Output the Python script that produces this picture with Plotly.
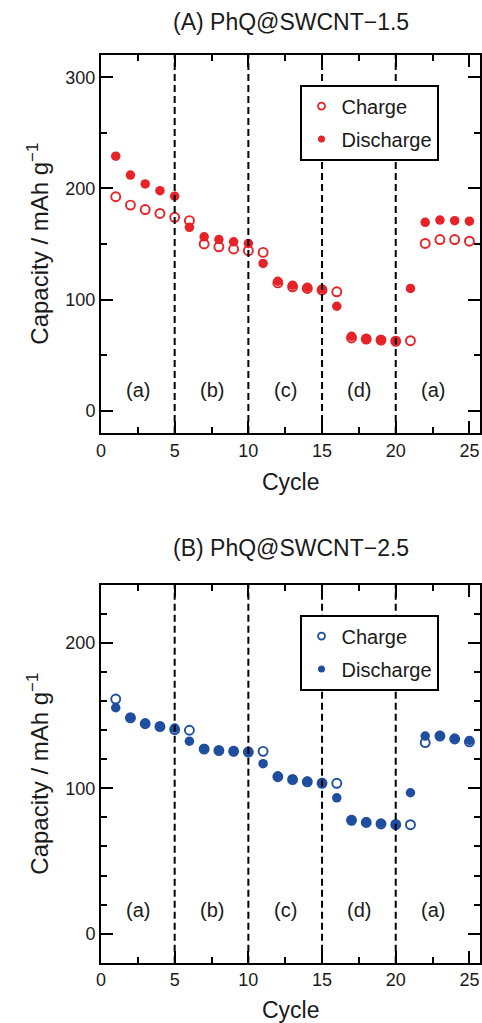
import plotly.graph_objects as go

# Rate capability data: capacity (mAh g-1) per cycle
cycles = list(range(1, 26))

charge_a = [192.5, 185, 181, 177.5, 174, 171, 150, 147.5, 145.5, 144, 142.5,
            115, 111.5, 110, 108.5, 107, 65.5, 64.5, 63.5, 62.5, 63,
            150.5, 154, 154, 152.5]
discharge_a = [229, 212, 204, 198, 193, 165, 156.5, 154, 152, 150.5, 132.5,
               116.5, 113, 111, 109.5, 94, 67, 65, 64, 63, 110,
               169.5, 171.5, 171, 170.5]

charge_b = [161.5, 148.5, 144.5, 142.5, 140.5, 140, 127, 126, 125.5, 125, 125.5,
            108, 106, 104.5, 103.5, 103.5, 78, 76.5, 75.5, 75, 75,
            131.5, 136, 134, 132]
discharge_b = [155.5, 149, 145, 143, 141.5, 132.5, 127.5, 126.5, 126, 125.5, 117,
               108.5, 106.5, 105, 104, 93.5, 78.5, 77, 76, 75.5, 97,
               136, 136.5, 134.5, 133]

rate_labels = ["(a)", "(b)", "(c)", "(d)", "(a)"]
rate_label_x = [2.5, 7.5, 12.5, 17.5, 22.5]
rate_boundaries = [5, 10, 15, 20]

panel_titles = ["(A) PhQ@SWCNT\u22121.5", "(B) PhQ@SWCNT\u22122.5"]

RED = "#E52328"
BLUE = "#1F4E9E"
TXT = "#1a1a1a"
FONT = "Liberation Sans, Arial, sans-serif"

W, H = 482, 1023


def px_x(v):
    return v / W


def px_y(v):
    return 1 - v / H


fig = go.Figure()

panels = [
    dict(charge=charge_a, discharge=discharge_a, color=RED, xa="x", ya="y", legend="legend"),
    dict(charge=charge_b, discharge=discharge_b, color=BLUE, xa="x2", ya="y2", legend="legend2"),
]

for p in panels:
    # data markers
    fig.add_trace(go.Scatter(
        x=cycles, y=p["charge"], mode="markers", xaxis=p["xa"], yaxis=p["ya"],
        marker=dict(symbol="circle-open", size=9, color=p["color"], line=dict(width=1.9, color=p["color"])),
        showlegend=False, hoverinfo="x+y"))
    fig.add_trace(go.Scatter(
        x=cycles, y=p["discharge"], mode="markers", xaxis=p["xa"], yaxis=p["ya"],
        marker=dict(symbol="circle", size=9.5, color=p["color"]),
        showlegend=False, hoverinfo="x+y"))
    # legend entries
    fig.add_trace(go.Scatter(
        x=[None], y=[None], mode="markers", name="Charge", xaxis=p["xa"], yaxis=p["ya"],
        marker=dict(symbol="circle-open", size=7, color=p["color"], line=dict(width=1.8, color=p["color"])),
        legend=p["legend"], legendgroup="c" + p["legend"]))
    fig.add_trace(go.Scatter(
        x=[None], y=[None], mode="markers", name="Discharge", xaxis=p["xa"], yaxis=p["ya"],
        marker=dict(symbol="circle", size=7, color=p["color"]),
        legend=p["legend"], legendgroup="d" + p["legend"]))

axis_common = dict(
    showline=True, linewidth=2, linecolor="black", mirror="ticks",
    ticks="inside", ticklen=12, tickwidth=1.6, tickcolor="black",
    showgrid=False, zeroline=False,
    tickfont=dict(family=FONT, size=18, color=TXT),
)

x_dom = [px_x(97), px_x(480)]
xa = dict(axis_common, range=[0, 25.72], tick0=0, dtick=5, domain=x_dom,
          minor=dict(ticks="inside", ticklen=6, tickwidth=1.6, tickcolor="black", tick0=0, dtick=2.5))

legend_common = dict(xanchor="left", yanchor="top",
                     bgcolor="white", bordercolor="black", borderwidth=1.6,
                     font=dict(family=FONT, size=20, color=TXT), tracegroupgap=4)

fig.update_layout(
    width=W, height=H,
    margin=dict(l=0, r=0, t=0, b=0),
    paper_bgcolor="white", plot_bgcolor="white",
    font=dict(family=FONT, color=TXT),
    xaxis=dict(xa, anchor="y"),
    xaxis2=dict(xa, anchor="y2"),
    yaxis=dict(axis_common, range=[-20, 320], tick0=0, dtick=100, anchor="x",
               domain=[px_y(433), px_y(55)],
               minor=dict(ticks="inside", ticklen=6, tickwidth=1.6, tickcolor="black", tick0=0, dtick=50)),
    yaxis2=dict(axis_common, range=[-20, 240], tick0=0, dtick=100, anchor="x2",
                domain=[px_y(962.7), px_y(585)],
                minor=dict(ticks="inside", ticklen=6, tickwidth=1.6, tickcolor="black", tick0=0, dtick=20)),
    legend=dict(legend_common, x=px_x(298), y=px_y(85)),
    legend2=dict(legend_common, x=px_x(298), y=px_y(615)),
)

# dashed rate-change boundaries
for xr, yr in [("x", "y"), ("x2", "y2")]:
    for b in rate_boundaries:
        fig.add_shape(type="line", xref=xr, yref=yr + " domain", x0=b, x1=b, y0=0, y1=1,
                      line=dict(color="black", width=2, dash="7px,4px"), layer="above")

annotations = []
# rate labels inside each panel
for xr, yr, yv in [("x", "y", 19), ("x2", "y2", 16)]:
    for lx, lt in zip(rate_label_x, rate_labels):
        annotations.append(dict(x=lx, y=yv, xref=xr, yref=yr, text=lt, showarrow=False,
                                font=dict(family=FONT, size=20, color=TXT)))

cx = px_x((97 + 480) / 2)
for title, ty in zip(panel_titles, [22, 548]):
    annotations.append(dict(x=cx, y=px_y(ty), xref="paper", yref="paper", text=title,
                            showarrow=False, xanchor="center", yanchor="middle",
                            font=dict(family=FONT, size=23, color=TXT)))
for cy in [482, 1010]:
    annotations.append(dict(x=cx, y=px_y(cy), xref="paper", yref="paper", text="Cycle",
                            showarrow=False, xanchor="center", yanchor="middle",
                            font=dict(family=FONT, size=23, color=TXT)))
for ycen in [244, 774]:
    annotations.append(dict(x=px_x(33), y=px_y(ycen), xref="paper", yref="paper",
                            text="Capacity / mAh g<sup>\u22121</sup>", textangle=-90,
                            showarrow=False, xanchor="center", yanchor="middle",
                            font=dict(family=FONT, size=24, color=TXT)))

fig.update_layout(annotations=annotations)

fig.write_html("out.html")
